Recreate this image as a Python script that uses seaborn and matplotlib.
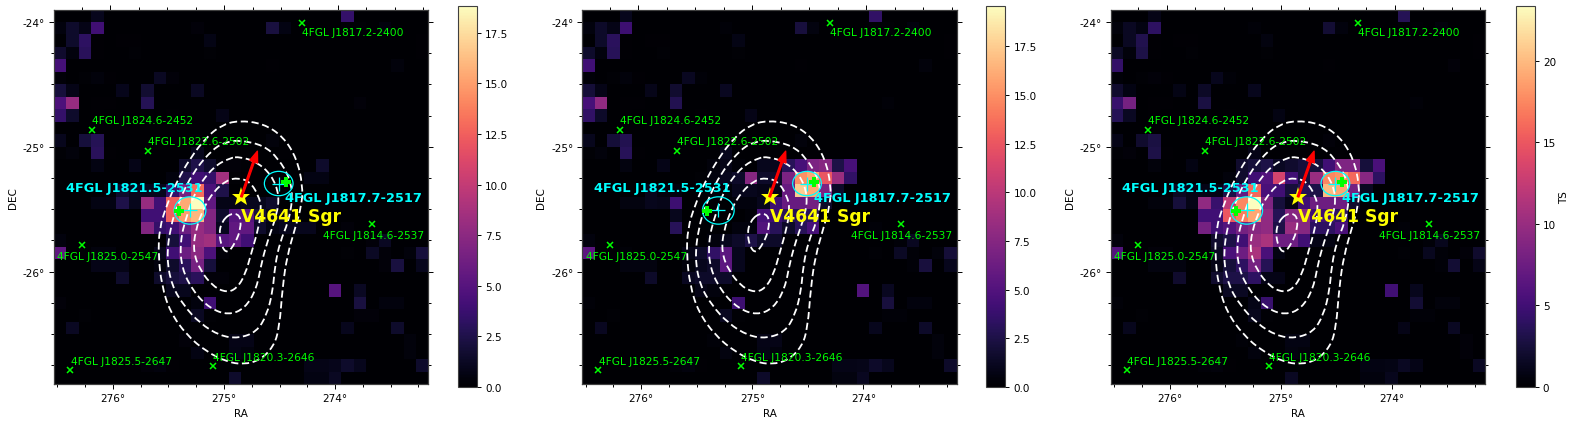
import numpy as np
import matplotlib
matplotlib.use("Agg")
import matplotlib.pyplot as plt
from matplotlib.patches import Ellipse, PathPatch
from matplotlib.path import Path
import seaborn as sns

# TS map outside the central block (rows top to bottom, columns east to west)
sky = [
    [0,0,0,1,0,0,0,0,0,0,0,0,0,0,0,0,0,0,0,0,0,0,0,3.5,0,0,0,0,0,0],
    [.5,1.5,.8,4,0,0,0,0,0,0,0,.3,0,0,0,0,0,2.2,.6,0,0,0,0,.2,.2,0,.5,0,0,0],
    [0,1.5,3.2,.1,0,.1,.1,0,0,0,0,0,.7,0,0,0,0,0,0,0,0,0,0,0,0,0,0,0,0,.1],
    [1.6,.5,3,.1,0,0,.2,0,0,0,0,0,.2,0,0,0,0,0,0,0,0,0,0,0,0,0,0,0,0,.1],
    [4.2,0,0,0,0,0,0,0,0,0,0,0,0,0,0,0,0,.1,0,0,0,0,0,0,0,0,0,.4,0,0],
    [.3,0,.2,.4,.1,0,0,0,1.2,.3,0,0,0,0,0,0,0,0,0,0,0,0,0,0,0,0,0,0,0,0],
    [2,.8,0,0,0,.9,0,1.7,0,0,0,1.2,0,0,0,0,0,0,0,0,0,0,0,0,0,0,0,0,0,0],
    [4.5,8,0,.1,.1,0,0,2.8,0,0,0,0,0,0,0,0,0,0,0,0,0,0,0,0,.3,0,0,0,0,0],
    [3.5,1.5,0,.1,0,0,0,.1,0,.1,0,0,0,.8,0,0,0,0,0,0,0,0,0,0,0,0,0,0,0,0],
    [0,0,0,0,0,0,0,0,0,0,0,0,0,0,0,0,0,0,0,0,0,0,0,0,0,0,0,0,0,0],
    [1,0,2,2.8,0,0,0,0,0,0,0,.1,0,0,0,0,0,.4,0,0,0,0,0,0,0,0,0,0,0,0],
    [.2,.4,0,3,.1,0,0,0,0,0,0,1,0,0,0,.1,0,0,.1,0,0,0,0,0,0,0,0,0,0,0],
    [0,0,0,0,0,0,0,0,0,0,0,0,0,0,0,0,0,0,0,0,0,0,0,0,0,0,0,0,0,0],
    [0,0,0,0,0,0,0,0,0,0,0,0,0,0,0,0,0,0,0,0,0,0,0,0,0,0,0,0,0,0],
    [0,0,0,0,0,0,0,0,0,0,0,0,0,0,0,0,0,0,0,0,0,0,0,0,0,0,0,0,0,0],
    [0,0,0,0,0,0,0,0,0,0,0,0,0,0,0,0,0,0,0,0,0,0,0,0,0,0,0,0,0,0],
    [0,0,0,0,0,0,0,0,0,0,0,0,0,0,0,0,0,0,0,0,0,0,0,0,0,0,0,0,0,0],
    [0,0,0,0,0,0,0,0,0,0,0,0,0,0,0,0,0,0,0,0,0,0,0,.3,0,0,0,0,0,0],
    [0,0,0,0,0,0,0,0,0,0,0,0,0,0,0,0,0,0,0,0,0,0,0,0,0,.3,1.2,0,0,0],
    [0,0,0,0,0,0,0,0,0,0,0,0,0,0,0,0,0,0,0,0,0,0,0,.2,0,1.3,.3,0,.4,2],
    [0,0,0,0,0,0,0,0,0,0,0,0,0,0,0,0,0,0,0,0,0,0,0,0,0,0,.3,2.2,0,1],
    [0,0,0,0,0,0,0,0,0,0,0,0,0,0,0,0,0,0,0,0,0,0,0,0,0,0,0,0,0,0],
    [0,0,0,0,0,0,0,0,0,0,0,0,0,0,0,0,0,0,0,0,0,0,5,0,1.2,0,0,0,0,0],
    [0,0,0,0,0,0,0,0,0,0,0,0,0,0,0,0,0,0,0,0,0,0,0,0,2.2,0,.5,.5,0,0],
    [0,0,.2,0,0,0,0,0,0,0,0,1.2,.2,0,0,0,0,0,0,0,0,0,0,0,.3,.3,0,0,0,0],
    [0,1.2,0,0,0,0,0,0,0,0,0,0,0,0,0,0,0,0,0,0,0,0,0,1,0,0,0,1.5,0,0],
    [0,0,0,0,0,0,0,0,0,0,.3,0,0,0,.8,.8,0,0,0,0,0,0,0,0,0,0,0,0,.4,0],
    [0,0,0,0,0,0,0,0,0,0,0,.6,0,0,.7,.5,0,0,0,0,0,0,0,0,0,0,0,0,.4,0],
    [0,0,0,0,0,0,0,.3,.5,.1,0,0,0,0,0,0,0,0,0,0,.8,.8,.9,1.5,1,0,0,0,0,1.5],
    [0,0,0,0,0,0,0,0,0,0,0,0,0,0,1.5,0,0,0,0,0,.6,.6,1.2,0,0,0,0,0,0,0],
]

# central block of each map: rows 12-23, columns 0-21
core_a = [
    [0,0,0,.6,0,0,.8,0,0,0,1.5,2.5,1.5,.3,.3,.2,0,0,0,0,0,1.5],
    [0,0,0,0,0,0,0,0,0,.5,2.5,4,3.5,8.5,.2,0,0,0,0,0,.6,.6],
    [0,0,0,0,.3,1.5,1,1,1,3.5,6.5,13,4.5,2.5,0,0,0,0,0,0,0,0],
    [0,0,0,.6,.6,2.5,1,8,4,12.5,15.5,18.83,5.5,.8,.8,1,1,1.5,0,0,0,0],
    [0,0,0,0,0,0,0,4,4,12.5,15,16,7,1.5,5,5,2,1,1,0,0,0],
    [0,0,0,0,0,0,0,7,3.5,4,6,8,7,1,5.5,5.5,1.5,.6,1,1,1,0],
    [.5,0,0,0,0,0,0,0,0,2,4,8,8.5,5,5.5,4,0,0,0,0,0,0],
    [5.5,0,0,.5,.5,0,0,0,1,4,6,7.5,4.5,.3,0,0,0,0,0,0,0,0],
    [0,0,0,.8,.8,.8,0,0,.5,1.5,3,6.5,2,0,0,0,0,0,0,0,0,0],
    [0,0,0,0,0,1.5,0,0,1.5,2,2.5,3,.3,.3,0,0,0,0,0,0,0,0],
    [0,0,0,0,0,0,0,0,0,1,1,0,0,0,0,0,0,0,0,0,0,0],
    [.3,0,0,0,0,0,0,0,0,0,0,.5,4,0,0,0,0,0,0,0,0,0],
]
core_b = [
    [0,0,0,.6,0,0,.8,0,0,0,.4,.8,.3,0,1,1,3,4.5,7,7.5,2.5,4.5],
    [0,0,0,0,0,0,0,0,0,.2,.5,1,1.5,7.5,1.5,1.5,7,15,16,12.5,8.5,3.5],
    [0,0,0,0,0,1,.5,.5,0,0,.3,.3,1,1,.8,.8,6,17.5,16,7,1.5,0],
    [0,0,0,.6,.6,1,.9,4,0,0,0,0,.5,.5,1,4,6,6,6.5,1.5,0,0],
    [0,0,0,0,0,0,0,1,0,0,0,0,0,.3,4.5,4,3,3,3,0,0,0],
    [0,0,0,0,0,0,0,3,0,0,0,0,.5,.5,5,3,1.5,3,4.5,0,0,0],
    [.5,0,0,0,0,0,0,0,0,0,.5,1,1.5,2.5,1.5,1.5,0,0,0,0,0,0],
    [5.5,0,0,.3,0,0,0,0,.8,1.5,3.5,5.5,1,0,0,0,0,0,0,0,0,0],
    [0,0,0,.6,.6,.6,0,0,.4,1,1.5,5.5,1,0,0,0,0,0,0,0,0,0],
    [0,0,0,0,0,1.5,0,0,1.2,1.5,1.5,1.5,0,0,0,0,0,0,0,0,0,0],
    [0,0,0,0,0,0,0,0,0,.8,.5,0,0,0,0,0,0,0,0,0,0,0],
    [.3,0,0,0,0,0,0,0,0,0,0,0,4,0,0,0,0,0,0,0,0,0],
]
core_c = [
    [0,0,0,.5,0,0,.8,0,0,0,2,2.5,3,1.5,2,2.5,2.5,5,8.5,8.5,2.5,5.5],
    [0,0,0,0,0,0,0,0,0,.5,2,5,6,13.5,5,2.5,10,17.5,18,16,9,4],
    [0,0,0,0,.3,1.5,1,1,1,3,7,16,5.5,5,2.5,3.5,3,20,19,8,1.5,0],
    [0,0,0,.5,.5,2.5,1,9.5,4.5,12,17.5,23.37,8.5,2.5,1,5,7.5,7.5,7.5,2,0,0],
    [0,0,0,0,0,0,0,5,5,15,17,19,9.5,3.5,9,9,5,5,4,0,0,0],
    [0,0,0,0,0,0,0,8,5,6,8,9,9.5,3,10,9,4,4,5.5,0,0,0],
    [.5,0,0,0,0,0,0,0,2,3,5,10,11,7.5,7.5,5,1,.8,0,0,0,0],
    [6,0,0,.4,.4,0,0,0,1.5,5.5,7.5,11,5.5,.8,0,0,0,0,0,0,0,0],
    [0,0,0,.7,.7,.7,0,0,1,2.5,4,8,3.5,0,0,0,0,0,0,0,0,0],
    [0,0,0,0,0,2,0,0,2,3,3,4,1,1,0,0,0,0,0,0,0,0],
    [0,0,0,0,0,0,0,0,0,1.5,1.5,0,0,0,0,0,0,0,0,0,0,0],
    [.3,0,0,0,0,0,0,0,0,0,0,1,4.5,0,0,0,0,0,0,0,0,0],
]
vmax_a, vmax_b, vmax_c = 18.83, 19.57, 23.37

# white dashed contours, RA then DEC in degrees
c1_ra = [274.871,274.646,274.466,274.346,274.292,274.301,274.361,274.430,274.472,274.502,274.556,274.676,274.826,274.976,275.156,275.336,275.486,275.561,275.591,275.582,275.516,275.426,275.306,275.156,275.021]
c1_dec = [-24.789,-24.813,-24.920,-25.093,-25.307,-25.467,-25.654,-25.868,-26.108,-26.455,-26.602,-26.709,-26.744,-26.722,-26.642,-26.509,-26.322,-26.108,-25.868,-25.654,-25.467,-25.280,-25.093,-24.920,-24.826]
c2_ra = [274.856,274.646,274.511,274.406,274.382,274.421,274.496,274.541,274.562,274.616,274.706,274.871,275.036,275.216,275.366,275.471,275.516,275.486,275.411,275.276,275.096,274.976]
c2_dec = [-24.947,-24.987,-25.093,-25.254,-25.414,-25.601,-25.761,-25.948,-26.161,-26.348,-26.482,-26.535,-26.514,-26.415,-26.268,-26.108,-25.894,-25.654,-25.441,-25.200,-25.013,-24.960]
c3_ra = [274.856,274.706,274.571,274.502,274.526,274.601,274.661,274.706,274.811,274.961,275.126,275.276,275.381,275.396,275.336,275.246,275.096,274.946]
c3_dec = [-25.080,-25.120,-25.227,-25.387,-25.547,-25.734,-25.921,-26.135,-26.295,-26.348,-26.295,-26.161,-25.974,-25.761,-25.547,-25.334,-25.160,-25.088]
c4_ra = [274.871,274.766,274.691,274.661,274.691,274.751,274.811,274.886,274.976,275.096,275.216,275.276,275.261,275.186,275.096,274.976]
c4_dec = [-25.248,-25.280,-25.387,-25.494,-25.654,-25.841,-26.028,-26.135,-26.167,-26.121,-25.988,-25.841,-25.681,-25.494,-25.360,-25.267]
c5_ra = [274.946,274.856,274.847,274.901,274.970,275.021,275.045,275.021]
c5_dec = [-25.534,-25.542,-25.654,-25.774,-25.854,-25.801,-25.694,-25.601]

# 4FGL catalogue sources in the field
src_names = ["4FGL J1817.2-2400", "4FGL J1824.6-2452", "4FGL J1822.6-2502", "4FGL J1825.0-2547",
             "4FGL J1814.6-2537", "4FGL J1825.5-2647", "4FGL J1820.3-2646"]
src_ra = [274.301, 276.191, 275.681, 276.281, 273.665, 276.386, 275.102]
src_dec = [-24.005, -24.867, -25.035, -25.788, -25.619, -26.788, -26.758]
label_ra = [274.301, 276.191, 275.681, 276.500, 274.112, 276.380, 275.102]
label_dec = [-24.079, -24.789, -24.955, -25.873, -25.708, -26.712, -26.685]

# the two new sources, with fit position, error ellipse and 4FGL position
new_names = ["4FGL J1821.5-2531", "4FGL J1817.7-2517"]
new_ra = [275.306, 274.508]
new_dec = [-25.510, -25.294]
new_w = [0.285, 0.258]
new_h = [0.219, 0.195]
new_label_ra = [276.425, 274.448]
new_label_dec = [-25.323, -25.409]
cat_ra = [275.405, 274.445]
cat_dec = [-25.515, -25.278]

star_ra, star_dec = 274.844, -25.40
arrow_ra, arrow_dec = 274.70, -25.035
star_label_ra, star_label_dec = 274.844, -25.553

ra_ticks = [276, 275, 274]
ra_labels = ["276°", "275°", "274°"]
ra_minor = [276.5, 276.25, 275.75, 275.5, 275.25, 274.75, 274.5, 274.25, 273.75, 273.5, 273.25]
dec_ticks = [-24, -25, -26]
dec_labels = ["-24°", "-25°", "-26°"]
dec_minor = [-24.25, -24.5, -24.75, -25.25, -25.5, -25.75, -26.25, -26.5, -26.75]

cbar_ticks_a = [0, 2.5, 5, 7.5, 10, 12.5, 15, 17.5]
cbar_ticks_c = [0, 5, 10, 15, 20]
cbar_labels_a = ["0.0", "2.5", "5.0", "7.5", "10.0", "12.5", "15.0", "17.5"]
cbar_labels_c = ["0", "5", "10", "15", "20"]

RA_LEFT, RA_RIGHT = 276.53, 273.16
DEC_TOP = -23.90
TOP_STRETCH = 1.025  # RA lines converge a little towards the top edge
W, H = 1577, 427


def ra_x(ra):
    return (RA_LEFT - np.asarray(ra)) / (RA_LEFT - RA_RIGHT) * 30


def dec_y(dec):
    return (DEC_TOP - np.asarray(dec)) / 0.1


def make_map(core):
    m = np.array(sky, dtype=float)
    m[12:24, :22] = core
    return m


def px_axes(left, right, top, bottom):
    return fig.add_axes([left / W, 1 - bottom / H, (right - left) / W, (bottom - top) / H])


def contour_patch(ra, dec):
    # closed quadratic curve through the midpoints, so the outline has no corners
    pts = np.column_stack([ra_x(ra), dec_y(dec)])
    mids = (pts + np.roll(pts, -1, axis=0)) / 2
    verts = [mids[-1]]
    codes = [Path.MOVETO]
    for p, m in zip(pts, mids):
        verts += [p, m]
        codes += [Path.CURVE3, Path.CURVE3]
    return PathPatch(Path(verts, codes), fc="none", ec="white", lw=1.3, ls=(0, (4, 2)))


panels = [
    (make_map(core_a), vmax_a, 54, 428.5, 457.5, 476.7, cbar_ticks_a, cbar_labels_a, ""),
    (make_map(core_b), vmax_b, 582.3, 956.8, 986, 1005, cbar_ticks_a, cbar_labels_a, ""),
    (make_map(core_c), vmax_c, 1110.7, 1485.2, 1515.5, 1534.5, cbar_ticks_c, cbar_labels_c, "TS"),
]

FS = 7.5
EDGE = "#404040"
contours = [(c1_ra, c1_dec), (c2_ra, c2_dec), (c3_ra, c3_dec), (c4_ra, c4_dec), (c5_ra, c5_dec)]

fig = plt.figure(figsize=(W / 100, H / 100), dpi=100)

for ts, vmax, left, right, cleft, cright, cticks, clabels, clabel in panels:
    ax = px_axes(left, right, 10.5, 385)
    cax = px_axes(cleft, cright, 7, 388)
    sns.heatmap(ts, ax=ax, cbar_ax=cax, cmap="magma", vmin=0, vmax=vmax, xticklabels=False, yticklabels=False,
                cbar_kws={"ticks": cticks})

    for sp in ax.spines.values():
        sp.set_visible(True)
        sp.set_linewidth(0.8)
        sp.set_color(EDGE)

    cb = ax.collections[0].colorbar
    cb.outline.set_visible(True)
    cb.outline.set_linewidth(0.8)
    cb.outline.set_edgecolor(EDGE)
    cb.set_ticklabels(clabels)
    cax.tick_params(labelsize=FS, length=3, width=0.7, pad=3)
    if clabel:
        cb.set_label(clabel, fontsize=FS, labelpad=2)

    for cra, cdec in contours:
        ax.add_patch(contour_patch(cra, cdec))

    ax.plot(ra_x(src_ra), dec_y(src_dec), ls="none", marker="x", ms=5, mew=1.1, color="#00ff00")
    for name, lra, ldec in zip(src_names, label_ra, label_dec):
        ax.text(ra_x(lra), dec_y(ldec), name, color="#00ff00", fontsize=7.7, va="center", ha="left")

    for i in range(2):
        ax.add_patch(Ellipse((ra_x(new_ra[i]), dec_y(new_dec[i])),
                             new_w[i] / (RA_LEFT - RA_RIGHT) * 30, new_h[i] / 0.1,
                             fc="none", ec="cyan", lw=0.9))
        ax.text(ra_x(new_label_ra[i]), dec_y(new_label_dec[i]), new_names[i], color="cyan",
                fontsize=9.3, fontweight="bold", va="center", ha="left")
    ax.plot(ra_x(new_ra), dec_y(new_dec), ls="none", marker="+", ms=10, mew=0.9, color="cyan")
    ax.plot(ra_x(cat_ra), dec_y(cat_dec), ls="none", marker="P", ms=7.5, mew=0, color="#00ff00")

    ax.annotate("", xy=(ra_x(arrow_ra), dec_y(arrow_dec)), xytext=(ra_x(star_ra), dec_y(star_dec)),
                arrowprops=dict(color="red", width=1.2, headwidth=6, headlength=8, shrink=0))
    ax.plot(ra_x([star_ra]), dec_y([star_dec]), ls="none", marker="*", ms=14, mew=0, color="yellow")
    ax.text(ra_x(star_label_ra), dec_y(star_label_dec), "V4641 Sgr", color="yellow",
            fontsize=12.3, fontweight="bold", va="center", ha="left")

    ax.set_xlim(0, 30)
    ax.set_ylim(30, 0)
    ax.set_xticks(ra_x(ra_ticks))
    ax.set_xticklabels(ra_labels)
    ax.set_xticks(ra_x(ra_minor), minor=True)
    ax.set_yticks(dec_y(dec_ticks))
    ax.set_yticklabels(dec_labels, rotation=0)
    ax.set_yticks(dec_y(dec_minor), minor=True)
    ax.tick_params(which="major", right=True, length=3.5, width=0.7, labelsize=FS, pad=3)
    ax.tick_params(which="minor", right=True, length=2, width=0.7)

    top = ax.twiny()
    top.set_xlim(0, 30)
    top.set_xticks(ra_x(275 + (np.array(ra_ticks) - 275) * TOP_STRETCH))
    top.set_xticks([x for x in ra_x(275 + (np.array(ra_minor) - 275) * TOP_STRETCH) if 0 < x < 30], minor=True)
    top.set_xticklabels([])
    top.tick_params(which="major", length=3.5, width=0.7)
    top.tick_params(which="minor", length=2, width=0.7)
    for sp in top.spines.values():
        sp.set_linewidth(0.8)
        sp.set_color(EDGE)

    ax.set_xlabel("RA", fontsize=FS)
    ax.set_ylabel("DEC", fontsize=FS)
    ax.xaxis.set_label_coords(0.5, -24 / 375)
    ax.yaxis.set_label_coords(-36 / 374, 0.5)

fig.savefig("out.png", dpi=100)
